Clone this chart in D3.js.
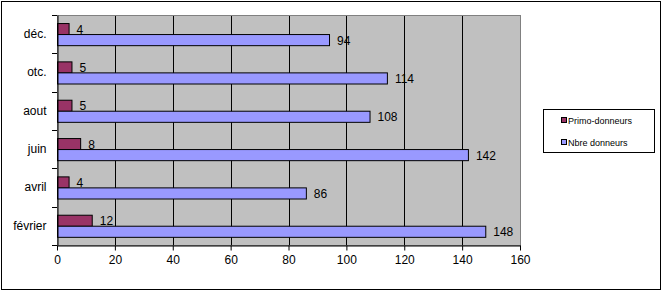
<!DOCTYPE html>
<html>
<head>
<meta charset="utf-8">
<script src="https://cdn.jsdelivr.net/npm/d3@7"></script>
<style>
  body { margin: 0; background: #fff; }
  text { font-family: "Liberation Sans", Arial, sans-serif; }
</style>
</head>
<body>
<div id="chart"></div>
<script>
// Data
const months = ["février", "avril", "juin", "aout", "otc.", "déc."];
const primoDonneurs = [12, 4, 8, 5, 5, 4];
const nbreDonneurs = [148, 86, 142, 108, 114, 94];
const seriesNames = ["Primo-donneurs", "Nbre donneurs"];
const xTicks = [0, 20, 40, 60, 80, 100, 120, 140, 160];

const width = 663, height = 292;
const plot = { left: 57, right: 520, top: 15, bottom: 245 };

const color = d3.scaleOrdinal().domain(seriesNames).range(["#993366", "#9999FF"]);

const svg = d3.select("#chart").append("svg")
    .attr("width", width)
    .attr("height", height);

// outer frame
svg.append("rect")
    .attr("x", 1.5).attr("y", 1.5)
    .attr("width", 659).attr("height", 288)
    .attr("fill", "white").attr("stroke", "black").attr("stroke-width", 1);

const x = d3.scaleLinear().domain([0, 160]).range([plot.left, plot.right]);
const y = d3.scaleBand().domain(months.slice().reverse()).range([plot.top, plot.bottom]).paddingInner(0.42).paddingOuter(0.21);
const yInner = d3.scaleBand().domain(seriesNames).range([0, y.bandwidth()]);

// plot background
svg.append("rect")
    .attr("x", plot.left).attr("y", plot.top)
    .attr("width", plot.right - plot.left).attr("height", plot.bottom - plot.top)
    .attr("fill", "#C0C0C0");

// vertical gridlines
svg.append("g")
    .selectAll("line")
    .data(xTicks.filter(d => d > 0 && d < 160))
    .join("line")
    .attr("x1", d => Math.round(x(d)) + 0.5)
    .attr("x2", d => Math.round(x(d)) + 0.5)
    .attr("y1", plot.top).attr("y2", plot.bottom)
    .attr("stroke", "black");

// plot border
svg.append("rect")
    .attr("x", plot.left + 0.5).attr("y", plot.top + 0.5)
    .attr("width", plot.right - plot.left).attr("height", plot.bottom - plot.top)
    .attr("fill", "none").attr("stroke", "#808080");

// bars
const rows = months.map((m, i) => ({ month: m, values: [primoDonneurs[i], nbreDonneurs[i]] }));

const groups = svg.append("g")
    .selectAll("g")
    .data(rows)
    .join("g")
    .attr("transform", d => `translate(0,${y(d.month)})`);

groups.selectAll("rect")
    .data(d => d.values.map((v, j) => ({ series: seriesNames[j], value: v })))
    .join("rect")
    .attr("x", x(0) + 0.5)
    .attr("y", d => Math.round(yInner(d.series)) + 0.5)
    .attr("width", d => x(d.value) - x(0))
    .attr("height", yInner.bandwidth())
    .attr("fill", d => color(d.series))
    .attr("stroke", "black");

groups.selectAll("text")
    .data(d => d.values.map((v, j) => ({ series: seriesNames[j], value: v })))
    .join("text")
    .attr("x", d => x(d.value) + 8)
    .attr("y", d => yInner(d.series) + yInner.bandwidth() / 2 + 5)
    .attr("font-size", 12)
    .attr("fill", "black")
    .text(d => d.value);

// y axis
const yAxis = svg.append("g")
    .attr("transform", `translate(${plot.left + 0.5},0)`)
    .call(d3.axisLeft(y).tickSize(0).tickPadding(11));
yAxis.select(".domain").attr("stroke", "black");
yAxis.selectAll("text").attr("font-size", 12).attr("font-family", "Liberation Sans, Arial, sans-serif");

// category separator ticks
const step = (plot.bottom - plot.top) / months.length;
svg.append("g")
    .selectAll("line")
    .data(d3.range(months.length + 1))
    .join("line")
    .attr("x1", plot.left - 5).attr("x2", plot.left)
    .attr("y1", d => Math.round(plot.top + d * step) + 0.5)
    .attr("y2", d => Math.round(plot.top + d * step) + 0.5)
    .attr("stroke", "black");

// x axis
const xAxis = svg.append("g")
    .attr("transform", `translate(0,${plot.bottom + 0.5})`)
    .call(d3.axisBottom(x).tickValues(xTicks).tickSize(5).tickSizeOuter(0).tickPadding(5));
xAxis.select(".domain").attr("stroke", "black");
xAxis.selectAll(".tick line").attr("stroke", "black");
xAxis.selectAll("text").attr("font-size", 12).attr("font-family", "Liberation Sans, Arial, sans-serif");

// legend
const legend = svg.append("g");
legend.append("rect")
    .attr("x", 543.5).attr("y", 109.5)
    .attr("width", 111).attr("height", 43)
    .attr("fill", "white").attr("stroke", "black");

const items = legend.selectAll("g")
    .data(seriesNames)
    .join("g")
    .attr("transform", (d, i) => `translate(561,${120 + i * 22})`);

items.append("rect")
    .attr("x", 0.5).attr("y", -2.5)
    .attr("width", 5).attr("height", 5)
    .attr("fill", d => color(d))
    .attr("stroke", "black");

items.append("text")
    .attr("x", 7).attr("y", 3.5)
    .attr("font-size", 9)
    .text(d => d);
</script>
</body>
</html>
